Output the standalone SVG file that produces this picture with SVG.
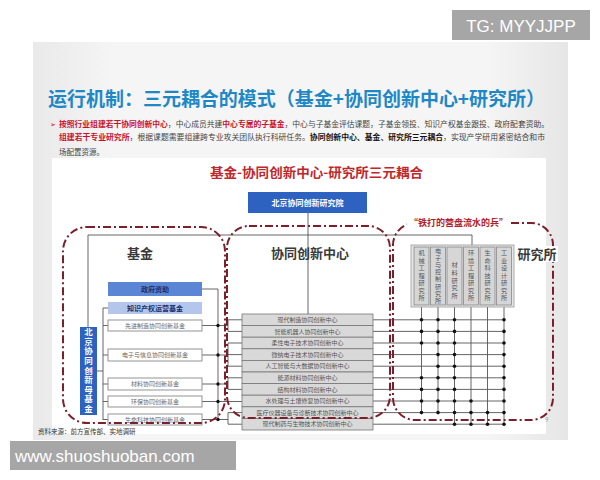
<svg xmlns="http://www.w3.org/2000/svg" width="600" height="480" viewBox="0 0 600 480">
<defs>
<style>
text{font-family:"Noto Sans CJK SC","Noto Sans",sans-serif;}
.wm{fill:#a6a6a6;}
.wmt{font-family:"Liberation Sans",Arial,sans-serif;font-size:17px;fill:#fff;}
.region{fill:none;stroke:#7d1e2c;stroke-width:2;stroke-dasharray:8 3 2 3;}
.ln{fill:none;stroke:#555;stroke-width:0.9;}
.fund{fill:#fff;stroke:#888;stroke-width:0.9;}
.fundt{font-size:6px;fill:#666;text-anchor:middle;}
.row{fill:#d9d9d9;stroke:#777;stroke-width:0.8;}
.rowt{font-size:6px;fill:#555;text-anchor:middle;}
.col{fill:#d6d6d6;stroke:#888;stroke-width:0.8;}
.colt{font-size:6.2px;fill:#555;text-anchor:middle;writing-mode:vertical-rl;}
.lbl{font-size:13px;font-weight:bold;fill:#3a3a3a;text-anchor:middle;}
.red{fill:#c8102e;font-weight:bold;}
.blk{fill:#111;font-weight:bold;}
.vt{font-size:8.5px;font-weight:bold;fill:#fff;text-anchor:middle;writing-mode:vertical-rl;letter-spacing:1.1px;}
</style>
<linearGradient id="slide" x1="0" y1="0" x2="1" y2="0">
<stop offset="0" stop-color="#e9e9e9"/><stop offset="0.15" stop-color="#f5f5f5"/><stop offset="0.85" stop-color="#f5f5f5"/><stop offset="1" stop-color="#e6e6e6"/>
</linearGradient>
</defs>
<rect width="600" height="480" fill="#fff"/>
<rect x="33" y="42" width="535" height="398" fill="url(#slide)"/>
<rect x="52" y="158" width="494" height="276" fill="#fff"/>

<g id="title">
<text x="48" y="106" font-size="19" font-weight="bold" fill="#1e88c7" textLength="497" lengthAdjust="spacingAndGlyphs">运行机制：三元耦合的模式（基金+协同创新中心+研究所）</text>
</g>
<g id="bullets" font-size="7.5" fill="#444">
<text x="50" y="126.5" fill="#c8102e" font-size="7">➢</text>
<text x="59" y="126.5" textLength="490" lengthAdjust="spacingAndGlyphs"><tspan class="red">按照行业组建若干协同创新中心</tspan>，中心成员共建<tspan class="red">中心专属的子基金</tspan>，中心与子基金评估课题，子基金领投、知识产权基金跟投、政府配套资助。</text>
<text x="59" y="140" textLength="486" lengthAdjust="spacingAndGlyphs"><tspan class="red">组建若干专业研究所</tspan>，根据课题需要组建跨专业攻关团队执行科研任务。<tspan class="blk">协同创新中心、基金、研究所三元耦合</tspan>，实现产学研用紧密结合和市</text>
<text x="59" y="155">场配置资源。</text>
</g>
<g id="subtitle">
<text x="210" y="177" font-size="13" font-weight="bold" fill="#c0272d" textLength="213" lengthAdjust="spacingAndGlyphs">基金-协同创新中心-研究所三元耦合</text>
</g>

<g id="connectors">
<path class="ln" d="M308,213 V314"/>
<path class="ln" d="M88,327 V235 H472 V245"/>
<path class="ln" d="M97,371 H103 M103,308 V420 M103,308 H108 M103,325.5 H108 M103,355 H108 M103,384 H108 M103,401.5 H108 M103,419.5 H108"/>
<path class="ln" d="M202,289 H218 V420 M202,325.5 H228 M202,355 H228 M202,384 H228 M202,401.5 H242 M202,419.5 H228"/>
<path class="ln" d="M228,319.8 V331.4 M228,319.8 H242 M228,331.4 H242 M228,343 V366.2 M228,343 H242 M228,354.6 H242 M228,366.2 H242 M228,377.8 V389.4 M228,377.8 H242 M228,389.4 H242 M228,412.6 V424.2 M228,412.6 H242 M228,424.2 H242"/>
<g fill="#111">
<circle cx="218" cy="325.5" r="1.7"/><circle cx="218" cy="355" r="1.7"/><circle cx="218" cy="384" r="1.7"/><circle cx="218" cy="401.5" r="1.7"/><circle cx="218" cy="419.5" r="1.7"/>
</g>
<path class="ln" d="M373,319.8 H505 M373,331.4 H505 M373,343 H505 M373,354.6 H505 M373,366.2 H505 M373,377.8 H505 M373,389.4 H505 M373,401 H505 M373,412.6 H505 M373,424.2 H505"/>
<path class="ln" d="M421.5,307 V412.6 M438,307 V412.6 M454.5,307 V424.2 M471,307 V424.2 M487.5,307 V424.2 M504,307 V424.2"/>
<g fill="#111">
<circle cx="421.5" cy="319.8" r="1.8"/><circle cx="438" cy="319.8" r="1.8"/><circle cx="454.5" cy="319.8" r="1.8"/><circle cx="504" cy="319.8" r="1.8"/>
<circle cx="421.5" cy="331.4" r="1.8"/><circle cx="438" cy="331.4" r="1.8"/><circle cx="454.5" cy="331.4" r="1.8"/><circle cx="504" cy="331.4" r="1.8"/>
<circle cx="421.5" cy="343" r="1.8"/><circle cx="438" cy="343" r="1.8"/><circle cx="454.5" cy="343" r="1.8"/><circle cx="504" cy="343" r="1.8"/>
<circle cx="438" cy="354.6" r="1.8"/><circle cx="454.5" cy="354.6" r="1.8"/><circle cx="504" cy="354.6" r="1.8"/>
<circle cx="438" cy="366.2" r="1.8"/><circle cx="454.5" cy="366.2" r="1.8"/><circle cx="504" cy="366.2" r="1.8"/>
<circle cx="421.5" cy="377.8" r="1.8"/><circle cx="438" cy="377.8" r="1.8"/><circle cx="454.5" cy="377.8" r="1.8"/><circle cx="504" cy="377.8" r="1.8"/>
<circle cx="421.5" cy="389.4" r="1.8"/><circle cx="438" cy="389.4" r="1.8"/><circle cx="454.5" cy="389.4" r="1.8"/><circle cx="504" cy="389.4" r="1.8"/>
<circle cx="421.5" cy="401" r="1.8"/><circle cx="438" cy="401" r="1.8"/><circle cx="454.5" cy="401" r="1.8"/><circle cx="471" cy="401" r="1.8"/><circle cx="504" cy="401" r="1.8"/>
<circle cx="421.5" cy="412.6" r="1.8"/><circle cx="438" cy="412.6" r="1.8"/><circle cx="454.5" cy="412.6" r="1.8"/><circle cx="471" cy="412.6" r="1.8"/><circle cx="487.5" cy="412.6" r="1.8"/><circle cx="504" cy="412.6" r="1.8"/>
<circle cx="454.5" cy="424.2" r="1.8"/><circle cx="471" cy="424.2" r="1.8"/><circle cx="487.5" cy="424.2" r="1.8"/><circle cx="504" cy="424.2" r="1.8"/>
</g>
</g>

<g id="institute-hq">
<rect x="248" y="192" width="119" height="21" fill="#2e62c0"/>
<text x="307.5" y="205.5" font-size="8" font-weight="bold" fill="#fff" text-anchor="middle">北京协同创新研究院</text>
</g>

<g id="mother-fund">
<rect x="80" y="327" width="17" height="88" fill="#2e62c0"/>
<text class="vt" x="88.5" y="371">北京协同创新母基金</text>
</g>

<g id="funds">
<g id="fund-gov"><rect x="108" y="282" width="94" height="14" fill="#5b86d6"/><text x="155" y="291.5" font-size="7" font-weight="bold" fill="#1b2f6b" text-anchor="middle">政府资助</text></g>
<g id="fund-ip"><rect x="108" y="302" width="94" height="12" fill="#b4c6ec"/><text x="155" y="310.5" font-size="7" font-weight="bold" fill="#1b2f6b" text-anchor="middle">知识产权运营基金</text></g>
<g id="fund-mfg"><rect class="fund" x="108" y="320" width="94" height="11"/><text class="fundt" x="155" y="327.7">先进制造协同创新基金</text></g>
<g id="fund-elec"><rect class="fund" x="108" y="349" width="94" height="12"/><text class="fundt" x="155" y="357.2">电子与信息协同创新基金</text></g>
<g id="fund-mat"><rect class="fund" x="108" y="378" width="94" height="12"/><text class="fundt" x="155" y="386.2">材料协同创新基金</text></g>
<g id="fund-env"><rect class="fund" x="108" y="396" width="94" height="11"/><text class="fundt" x="155" y="403.7">环保协同创新基金</text></g>
<g id="fund-life"><rect class="fund" x="108" y="414" width="94" height="11"/><text class="fundt" x="155" y="421.7">生命科技协同创新基金</text></g>
</g>

<g id="centers">
<g id="c1"><rect class="row" x="242" y="314" width="131" height="11.6"/><text class="rowt" x="307.5" y="322">现代制造协同创新中心</text></g>
<g id="c2"><rect class="row" x="242" y="325.6" width="131" height="11.6"/><text class="rowt" x="307.5" y="333.6">智能机器人协同创新中心</text></g>
<g id="c3"><rect class="row" x="242" y="337.2" width="131" height="11.6"/><text class="rowt" x="307.5" y="345.2">柔性电子技术协同创新中心</text></g>
<g id="c4"><rect class="row" x="242" y="348.8" width="131" height="11.6"/><text class="rowt" x="307.5" y="356.8">微纳电子技术协同创新中心</text></g>
<g id="c5"><rect class="row" x="242" y="360.4" width="131" height="11.6"/><text class="rowt" x="307.5" y="368.4">人工智能与大数据协同创新中心</text></g>
<g id="c6"><rect class="row" x="242" y="372" width="131" height="11.6"/><text class="rowt" x="307.5" y="380">能源材料协同创新中心</text></g>
<g id="c7"><rect class="row" x="242" y="383.6" width="131" height="11.6"/><text class="rowt" x="307.5" y="391.6">结构材料协同创新中心</text></g>
<g id="c8"><rect class="row" x="242" y="395.2" width="131" height="11.6"/><text class="rowt" x="307.5" y="403.2">水处理与土壤修复协同创新中心</text></g>
<g id="c9"><rect class="row" x="242" y="406.8" width="131" height="11.6"/><text class="rowt" x="307.5" y="414.8">医疗仪器设备与诊断技术协同创新中心</text></g>
<g id="c10"><rect class="row" x="242" y="418.4" width="131" height="11.6"/><text class="rowt" x="307.5" y="426.4">现代制药与生物技术协同创新中心</text></g>
</g>

<g id="institutes">
<rect x="411" y="245" width="103" height="62" fill="#e6e6e6" stroke="#999" stroke-width="0.8"/>
<g id="i1"><rect class="col" x="414" y="247" width="15" height="58"/><text class="colt" x="421.5" y="276" letter-spacing="1.3">机械工程研究所</text></g>
<g id="i2"><rect class="col" x="430.5" y="247" width="15" height="58"/><text class="colt" x="438" y="276" font-size="5.8" letter-spacing="0.9">电子与控制研究所</text></g>
<g id="i3"><rect class="col" x="447" y="247" width="15" height="58"/><text class="colt" x="454.5" y="281" letter-spacing="1.6">材料研究所</text></g>
<g id="i4"><rect class="col" x="463.5" y="247" width="15" height="58"/><text class="colt" x="471" y="276" letter-spacing="1.3">环境工程研究所</text></g>
<g id="i5"><rect class="col" x="480" y="247" width="15" height="58"/><text class="colt" x="487.5" y="276" letter-spacing="1.3">生命科技研究所</text></g>
<g id="i6"><rect class="col" x="496.5" y="247" width="15" height="58"/><text class="colt" x="504" y="276" letter-spacing="1.3">工业设计研究所</text></g>
</g>

<g id="regions">
<rect class="region" x="63" y="227" width="162" height="196" rx="24"/>
<rect class="region" x="227" y="226" width="163" height="192" rx="22"/>
<rect class="region" x="393" y="223" width="160" height="197" rx="22"/>
<rect x="407" y="216" width="103" height="13" fill="#fff"/>
<text x="458.5" y="226" font-size="9" font-weight="bold" fill="#b5202e" text-anchor="middle">“铁打的营盘流水的兵”</text>
</g>

<g id="labels">
<text class="lbl" x="140" y="258">基金</text>
<text class="lbl" x="310" y="258">协同创新中心</text>
<rect x="517" y="246" width="41" height="16" fill="#fff"/>
<text class="lbl" x="537" y="259" font-size="12.5">研究所</text>
</g>

<g id="footer">
<text x="38" y="434" font-size="6.5" fill="#333">资料来源：前方宣传部、实地调研</text>
<text x="545" y="422" font-size="6" fill="#999">9</text>
</g>

<g id="watermarks">
<rect class="wm" x="452" y="10" width="138" height="30"/>
<text class="wmt" x="521" y="31.5" text-anchor="middle">TG: MYYJJPP</text>
<rect class="wm" x="10" y="441" width="226" height="29"/>
<text class="wmt" x="15" y="462">www.shuoshuoban.com</text>
</g>
</svg>
